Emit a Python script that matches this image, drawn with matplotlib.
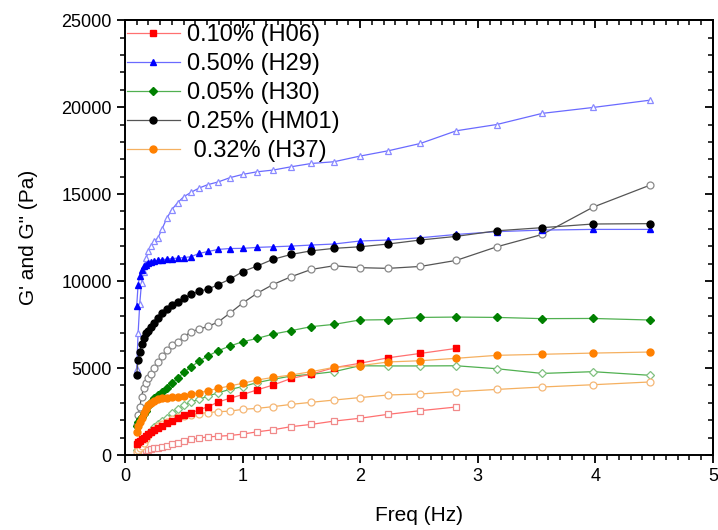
import matplotlib
matplotlib.use("Agg")
import matplotlib.pyplot as plt
from matplotlib.ticker import MultipleLocator

plt.rcParams['font.family'] = ['Liberation Sans', 'DejaVu Sans']

# frequency sweep, 20 points per decade
freq = [0.100, 0.112, 0.126, 0.141, 0.158, 0.178, 0.200, 0.224, 0.251, 0.282,
        0.316, 0.355, 0.398, 0.447, 0.501, 0.562, 0.631, 0.708, 0.794, 0.891,
        1.000, 1.122, 1.259, 1.413, 1.585, 1.778, 1.995, 2.239, 2.512, 2.818,
        3.162, 3.548, 3.981, 4.467]

# H06 (0.10%) - measured up to 2.8 Hz only
h06_g1 = [650, 740, 830, 920, 1000, 1100, 1200, 1320, 1440, 1540,
          1640, 1820, 1950, 2100, 2300, 2420, 2600, 2780, 3050, 3260,
          3470, 3740, 4020, 4400, 4650, 5020, 5270, 5590, 5840, 6130]
h06_g2 = [50, 100, 150, 190, 230, 270, 300, 330, 380, 420,
          480, 540, 620, 700, 800, 900, 980, 1040, 1080, 1120,
          1200, 1330, 1450, 1630, 1760, 1950, 2110, 2340, 2550, 2760]

# H29 (0.50%)
h29_g1 = [8550, 9800, 10300, 10650, 10850, 10950, 11050, 11100, 11150, 11200,
          11230, 11260, 11290, 11320, 11350, 11400, 11590, 11700, 11820, 11870,
          11880, 11935, 11970, 12010, 12070, 12130, 12300, 12360, 12490, 12680,
          12840, 12930, 12970, 12970]
h29_g2 = [4950, 7000, 8700, 9900, 10500, 11300, 11700, 12000, 12300, 12500,
          13000, 13600, 14100, 14500, 14850, 15100, 15350, 15550, 15700, 15940,
          16130, 16280, 16380, 16570, 16760, 16860, 17180, 17490, 17910, 18640,
          19000, 19640, 19980, 20400]

# H30 (0.05%)
h30_g1 = [1650, 1900, 2050, 2200, 2380, 2550, 2800, 3050, 3250, 3450,
          3650, 3850, 4120, 4400, 4750, 5060, 5400, 5700, 6000, 6260,
          6510, 6700, 6950, 7150, 7380, 7510, 7760, 7780, 7910, 7930,
          7910, 7840, 7850, 7760]
h30_g2 = [300, 450, 580, 720, 850, 1000, 1200, 1400, 1600, 1780,
          1950, 2110, 2400, 2620, 2870, 3060, 3200, 3390, 3580, 3770,
          3930, 4160, 4350, 4540, 4640, 4790, 5130, 5120, 5120, 5130,
          4960, 4690, 4790, 4580]

# HM01 (0.25%)
hm01_g1 = [4620, 5460, 5940, 6400, 6700, 6990, 7150, 7350, 7570, 7850,
           8140, 8370, 8620, 8800, 9000, 9230, 9420, 9540, 9800, 10100,
           10540, 10860, 11250, 11530, 11740, 11880, 11970, 12130, 12360, 12570,
           12890, 13070, 13280, 13300]
hm01_g2 = [1750, 2300, 2750, 3350, 3850, 4150, 4400, 4650, 5000, 5370,
           5720, 6010, 6320, 6520, 6780, 7100, 7230, 7400, 7650, 8150,
           8730, 9290, 9800, 10250, 10670, 10880, 10770, 10730, 10840, 11190,
           11970, 12680, 14250, 15520]

# H37 (0.32%)
h37_g1 = [1350, 1650, 1900, 2150, 2400, 2650, 2850, 3000, 3100, 3200,
          3250, 3300, 3330, 3360, 3420, 3490, 3580, 3700, 3830, 3970,
          4120, 4310, 4460, 4600, 4790, 5040, 5130, 5350, 5420, 5560,
          5730, 5790, 5860, 5920]
h37_g2 = [150, 300, 400, 500, 700, 900, 1150, 1300, 1450, 1650,
          1800, 1920, 2050, 2200, 2260, 2300, 2380, 2440, 2490, 2520,
          2625, 2680, 2780, 2910, 3030, 3160, 3300, 3450, 3510, 3640,
          3770, 3910, 4040, 4200]

labels = ["0.10% (H06)", "0.50% (H29)", "0.05% (H30)", "0.25% (HM01)", " 0.32% (H37)"]

fig = plt.figure(figsize=(7.18, 5.30), dpi=100)
ax = fig.add_axes([0.174, 0.1415, 0.819, 0.8205])

# (G', G'', marker, solid colour, line colour, faded colour for G'')
series = [
    (h06_g1, h06_g2, 's', '#ff0000', '#ff7070', '#f08a8a'),
    (h29_g1, h29_g2, '^', '#0000ff', '#6a6aff', '#8a8aff'),
    (h30_g1, h30_g2, 'D', '#008000', '#50b050', '#80c080'),
    (hm01_g1, hm01_g2, 'o', '#000000', '#555555', '#8a8a8a'),
    (h37_g1, h37_g2, 'o', '#ff8000', '#f5b060', '#f5b878'),
]

for (g1, g2, mk, col, lcol, fcol), lab in zip(series, labels):
    ms = 4.4 if mk == 'D' else 5.0
    ax.plot(freq[:len(g1)], g1, color=lcol, lw=0.9, marker=mk, ms=ms,
            mfc=col, mec=col, label=lab, zorder=3)
    ax.plot(freq[:len(g2)], g2, color=lcol, lw=0.9, marker=mk, ms=ms,
            mfc='white', mec=fcol, mew=0.9, zorder=2)

ax.set_xlim(0, 5)
ax.set_ylim(0, 25000)
ax.xaxis.set_major_locator(MultipleLocator(1))
ax.xaxis.set_minor_locator(MultipleLocator(0.1))
ax.yaxis.set_major_locator(MultipleLocator(5000))
ax.yaxis.set_minor_locator(MultipleLocator(1000))
ax.tick_params(which='major', direction='out', length=6, width=1.3, labelsize=13)
ax.tick_params(which='minor', direction='out', length=3.5, width=1.1)

# inward ticks on the top and right frame
top = ax.secondary_xaxis('top')
top.xaxis.set_major_locator(MultipleLocator(1))
top.xaxis.set_minor_locator(MultipleLocator(0.1))
top.tick_params(which='major', direction='in', length=6, width=1.3, labeltop=False)
top.tick_params(which='minor', direction='in', length=3.5, width=1.1)
right = ax.secondary_yaxis('right')
right.yaxis.set_major_locator(MultipleLocator(5000))
right.yaxis.set_minor_locator(MultipleLocator(1000))
right.tick_params(which='major', direction='in', length=6, width=1.3, labelright=False)
right.tick_params(which='minor', direction='in', length=3.5, width=1.1)

for sp in list(ax.spines.values()) + [top.spines['top'], right.spines['right']]:
    sp.set_linewidth(1.4)

ax.set_xlabel("Freq (Hz)", fontsize=15, labelpad=15)
ax.set_ylabel("G' and G\" (Pa)", fontsize=15, labelpad=17)

ax.legend(loc='upper left', frameon=False, fontsize=17, handlelength=2.25,
          handletextpad=0.3, labelspacing=0.29, borderpad=0.0, borderaxespad=0.0,
          bbox_to_anchor=(0.003, 0.99))

fig.savefig("out.png", dpi=100, facecolor='white')
